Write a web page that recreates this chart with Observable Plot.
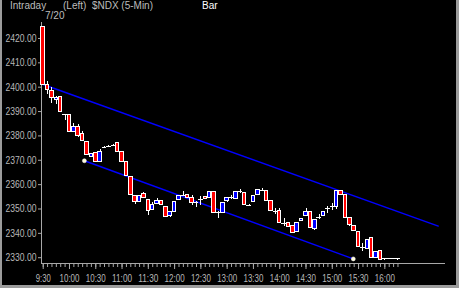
<!DOCTYPE html>
<html>
<head>
<meta charset="utf-8">
<script src="https://cdn.jsdelivr.net/npm/d3@7"></script>
<script src="https://cdn.jsdelivr.net/npm/@observablehq/plot@0.6"></script>
<style>
  html, body { margin: 0; padding: 0; background: #000; }
  #wrap { position: relative; width: 459px; height: 288px; overflow: hidden; background: #000; }
  #wrap svg { position: absolute; left: 0; top: 0; }
  .hdr { position: absolute; font: 10px "Liberation Sans", Arial, sans-serif; line-height: 12px; color: #bcbcbc; white-space: nowrap; }
  #border { position: absolute; left: 0; top: 0; width: 459px; height: 288px; box-sizing: border-box;
            border-left: 2px solid #9c9c9c; border-right: 3px solid #9c9c9c; border-bottom: 3px solid #9c9c9c; pointer-events: none; }
</style>
</head>
<body>
<div id="wrap">
  <div class="hdr" style="left:10px;top:0px">Intraday</div>
  <div class="hdr" style="left:63px;top:0px">(Left)&nbsp; $NDX (5-Min)</div>
  <div class="hdr" style="left:202px;top:0px;color:#fff">Bar</div>
  <div class="hdr" style="left:45px;top:10px">7/20</div>
  <div id="border"></div>
</div>
<script>
// 5-minute bars, index 0 = 9:30
const barOpen  = [2424.9,2401.1,2398.4,2394.8,2396.0,2388.6,2388.6,2381.6,2383.8,2380.8,
                  2377.5,2371.5,2372.8,2369.3,2375.3,2375.6,2376.0,2377.0,2373.4,2369.2,
                  2363.0,2355.5,2353.0,2356.2,2353.6,2349.5,2352.0,2353.2,2350.7,2347.0,
                  2348.7,2353.5,2355.6,2355.8,2354.4,2352.8,2354.0,2354.8,2354.4,2356.8,
                  2348.6,2348.5,2353.1,2354.8,2354.2,2357.0,2356.4,2351.6,2353.0,2355.6,
                  2357.5,2357.2,2353.1,2349.0,2349.0,2344.1,2344.1,2343.0,2340.5,2344.9,
                  2347.0,2348.7,2341.6,2346.5,2347.0,2350.1,2350.9,2350.9,2357.2,2355.6,
                  2346.3,2343.0,2340.5,2334.2,2333.4,2338.0,2329.8,2332.8,2329.5,2329.5,
                  2329.5,2329.5];
const barHigh  = [2424.9,2402.5,2400.0,2396.0,2396.3,2388.8,2388.6,2385.0,2384.8,2382.0,
                  2377.8,2372.6,2372.9,2374.3,2375.6,2375.9,2376.3,2377.1,2373.5,2369.3,
                  2363.2,2355.6,2355.6,2356.6,2353.8,2352.5,2354.2,2353.4,2350.9,2348.9,
                  2353.0,2355.5,2357.2,2356.0,2355.5,2353.2,2355.3,2355.0,2357.0,2357.0,
                  2348.8,2352.5,2354.7,2355.5,2357.3,2357.8,2356.6,2351.8,2355.6,2357.8,
                  2358.3,2357.4,2353.3,2350.0,2350.0,2346.0,2344.3,2343.2,2344.5,2346.0,
                  2350.0,2348.9,2345.6,2347.6,2348.9,2351.2,2352.3,2357.4,2357.4,2355.8,
                  2346.5,2343.2,2340.7,2336.0,2337.4,2338.2,2332.7,2333.0,2329.7,2329.5,
                  2329.5,2329.5];
const barLow   = [2401.1,2397.0,2393.5,2393.0,2389.5,2386.5,2381.4,2381.3,2379.3,2377.8,
                  2371.8,2371.3,2369.0,2369.2,2375.0,2375.4,2375.8,2373.3,2369.2,2363.3,
                  2355.4,2352.0,2352.8,2354.3,2347.3,2349.3,2351.8,2351.3,2346.5,2346.6,
                  2348.5,2353.3,2355.3,2354.3,2351.3,2350.7,2351.3,2353.8,2354.2,2348.3,
                  2346.0,2348.3,2352.5,2353.8,2354.0,2356.5,2351.3,2351.4,2352.8,2355.4,
                  2357.3,2353.2,2348.8,2347.8,2343.9,2342.7,2342.2,2340.0,2340.3,2344.7,
                  2346.8,2342.0,2341.0,2345.6,2346.8,2348.3,2349.5,2349.9,2355.5,2346.1,
                  2343.0,2340.8,2334.0,2332.6,2333.2,2329.6,2329.6,2329.0,2328.8,2329.5,
                  2329.5,2328.8];
const barClose = [2401.1,2398.8,2395.6,2395.6,2389.7,2388.6,2381.8,2383.6,2380.0,2378.1,
                  2372.0,2372.5,2369.3,2373.5,2375.3,2375.6,2376.0,2373.4,2369.4,2363.5,
                  2355.6,2352.8,2355.4,2354.5,2349.0,2351.5,2353.2,2351.5,2346.8,2348.7,
                  2352.8,2355.3,2355.6,2354.5,2352.6,2352.8,2354.0,2354.0,2356.8,2348.5,
                  2348.6,2352.3,2354.5,2354.8,2356.8,2357.0,2351.5,2351.6,2355.4,2357.6,
                  2357.5,2353.4,2349.0,2349.0,2344.1,2344.1,2342.4,2340.2,2344.3,2345.8,
                  2348.7,2342.2,2345.4,2346.5,2348.7,2350.1,2350.9,2357.2,2355.7,2346.3,
                  2343.3,2341.0,2334.2,2334.2,2337.2,2329.8,2332.5,2329.2,2329.5,2329.5,
                  2329.5,2329.5];

// trend channel lines (bar index, price)
const upperLineIdx = [0, 90.2];
const upperLineVal = [2401.1, 2343.0];
const lowerLineIdx = [9.4, 70.8];
const lowerLineVal = [2369.8, 2329.5];

// axes
const xLabels = ["9:30","10:00","10:30","11:00","11:30","12:00","12:30","13:00","13:30","14:00","14:30","15:00","15:30","16:00"];
const xLabelIdx = xLabels.map((_, k) => k * 6);
const xMinorIdx = d3.range(0, 82);
const yTicks = [2330, 2340, 2350, 2360, 2370, 2380, 2390, 2400, 2410, 2420];

const bars = barOpen.map((o, i) => ({i, open: o, high: barHigh[i], low: barLow[i], close: barClose[i]}));
const bodies = bars.filter(d => d.open !== d.close);
const dojis = bars.filter(d => d.open === d.close);
const upper = upperLineIdx.map((x, k) => ({x, y: upperLineVal[k]}));
const lower = lowerLineIdx.map((x, k) => ({x, y: lowerLineVal[k]}));

const xDomain = [-0.39, 91.85];
const yDomain = [2327.62, 2426.56];
const gray = "#a8a8a8";
const labelGray = "#b8b8b8";
const numFont = "'Liberation Sans', Arial, sans-serif";

const chart = Plot.plot({
  width: 459,
  height: 288,
  marginLeft: 41,
  marginRight: 14,
  marginTop: 22,
  marginBottom: 25,
  style: {background: "transparent", color: gray, fontFamily: numFont, fontSize: "10.5px"},
  x: {type: "linear", domain: xDomain, axis: null},
  y: {type: "linear", domain: yDomain, axis: null},
  marks: [
    Plot.ruleX([xDomain[0]], {x: d => d, stroke: gray, shapeRendering: "crispEdges"}),
    Plot.ruleY([yDomain[0]], {y: d => d, stroke: gray, shapeRendering: "crispEdges"}),
    Plot.axisY({ticks: yTicks, tickFormat: d => d.toFixed(2), tickSize: 3, tickPadding: 2,
                stroke: gray, fill: labelGray, label: null, fontSize: 10.5}),
    Plot.axisX({ticks: xMinorIdx, tickSize: 4, fill: "none", stroke: gray, label: null}),
    Plot.axisX({ticks: xLabelIdx, tickSize: 6, tickPadding: 5, tickFormat: d => xLabels[Math.round(d / 6)],
                stroke: gray, fill: labelGray, label: null, fontSize: 10.5}),
    Plot.line(upper, {x: "x", y: "y", stroke: "#0000ff", strokeWidth: 1.4}),
    Plot.line(lower, {x: "x", y: "y", stroke: "#0000ff", strokeWidth: 1.4}),
    Plot.ruleX(bars, {x: "i", y1: "low", y2: "high", stroke: "#fff", shapeRendering: "crispEdges"}),
    Plot.rect(bodies, {x1: d => d.i - 0.4, x2: d => d.i + 0.4, y1: "open", y2: "close",
                       fill: d => d.close > d.open ? "#0000ff" : "#ff0000", stroke: "#fff", strokeWidth: 1,
                       shapeRendering: "crispEdges"}),
    Plot.ruleY(dojis, {y: "open", x1: d => d.i - 0.5, x2: d => d.i + 0.5, stroke: "#fff", shapeRendering: "crispEdges"}),
    Plot.dot(lower, {x: "x", y: "y", r: 2, fill: "#fffbd8", stroke: "#fff", strokeWidth: 0.5})
  ]
});
// squeeze the tick labels to the narrow look of the original font
d3.select(chart).selectAll('g[aria-label="y-axis tick label"] text')
  .attr("textLength", 31).attr("lengthAdjust", "spacingAndGlyphs");
d3.select(chart).selectAll('g[aria-label="x-axis tick label"] text')
  .each(function () {
    const n = this.textContent.length;
    d3.select(this).attr("textLength", n === 4 ? 15 : 20).attr("lengthAdjust", "spacingAndGlyphs");
  });
document.getElementById("wrap").insertBefore(chart, document.getElementById("wrap").firstChild);
</script>
</body>
</html>
